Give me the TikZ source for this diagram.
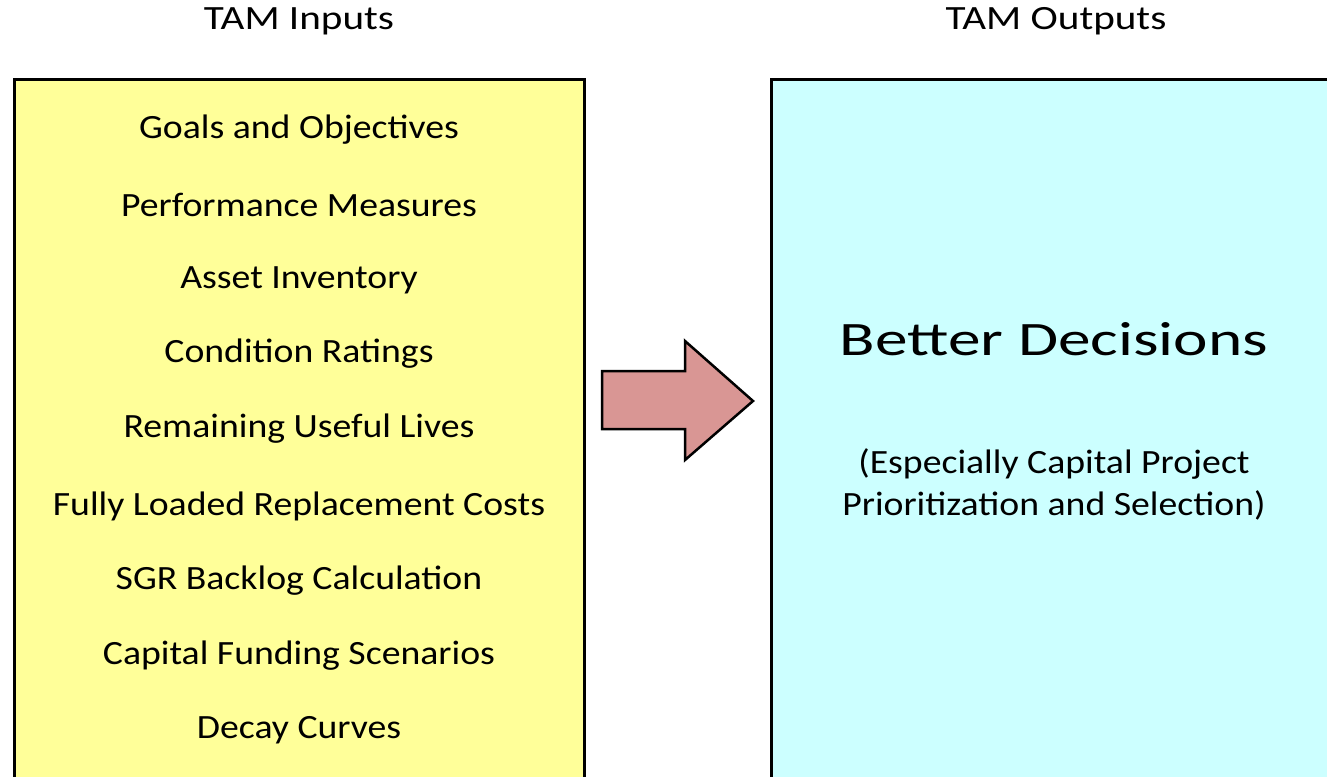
\documentclass[tikz,border=0pt]{standalone}
\usepackage{fontspec}
\setmainfont{Carlito}[FakeStretch=1.11]
\newfontfamily\titlefont{Carlito}[FakeStretch=1.21]
\newfontfamily\bigfont{Carlito}[FakeStretch=1.36]
\begin{document}
\begin{tikzpicture}[x=1pt,y=-1pt,
  panel/.style={draw=black,line width=3pt},
  item/.style={inner sep=0pt,anchor=center,font=\fontsize{34}{40}\selectfont},
  title/.style={inner sep=0pt,anchor=center,font=\titlefont\fontsize{34}{40}\selectfont},
  bigtext/.style={inner sep=0pt,anchor=center,font=\bigfont\fontsize{48}{56}\selectfont},
  subtext/.style={inner sep=0pt,anchor=center,align=center,font=\fontsize{34}{42}\selectfont},
]
\path[use as bounding box] (0,0) rectangle (1327,776);
\begin{scope}
\clip (0,0) rectangle (1327,776);
\fill[white] (0,0) rectangle (1327,776);
\draw[panel,fill={rgb,255:red,255;green,255;blue,153}] (14,79) rectangle (584.5,800);
\draw[panel,fill={rgb,255:red,204;green,255;blue,255}] (771,79) rectangle (1345,800);
\draw[line width=2.5pt,fill={rgb,255:red,217;green,150;blue,148},line join=miter]
  (602,371) -- (685,371) -- (685,341) -- (753,401) -- (685,460) -- (685,429) -- (602,429) -- cycle;
\end{scope}
\node[title] (tin) at (299,21) {TAM Inputs};
\node[title] (tout) at (1056,21) {TAM Outputs};
\node[item] (i1) at (299,130) {Goals and Objectives};
\node[item] (i2) at (299,205) {Performance Measures};
\node[item] (i3) at (299,280) {Asset Inventory};
\node[item] (i4) at (299,354) {Condition Ratings};
\node[item] (i5) at (299,429) {Remaining Useful Lives};
\node[item] (i6) at (299,506) {Fully Loaded Replacement Costs};
\node[item] (i7) at (299,581) {SGR Backlog Calculation};
\node[item] (i8) at (299,656) {Capital Funding Scenarios};
\node[item] (i9) at (299,730) {Decay Curves};
\node[bigtext] (bd) at (1054,339) {Better Decisions};
\node[subtext] (sub) at (1054,484) {(Especially Capital Project\\Prioritization and Selection)};
\end{tikzpicture}
\end{document}
